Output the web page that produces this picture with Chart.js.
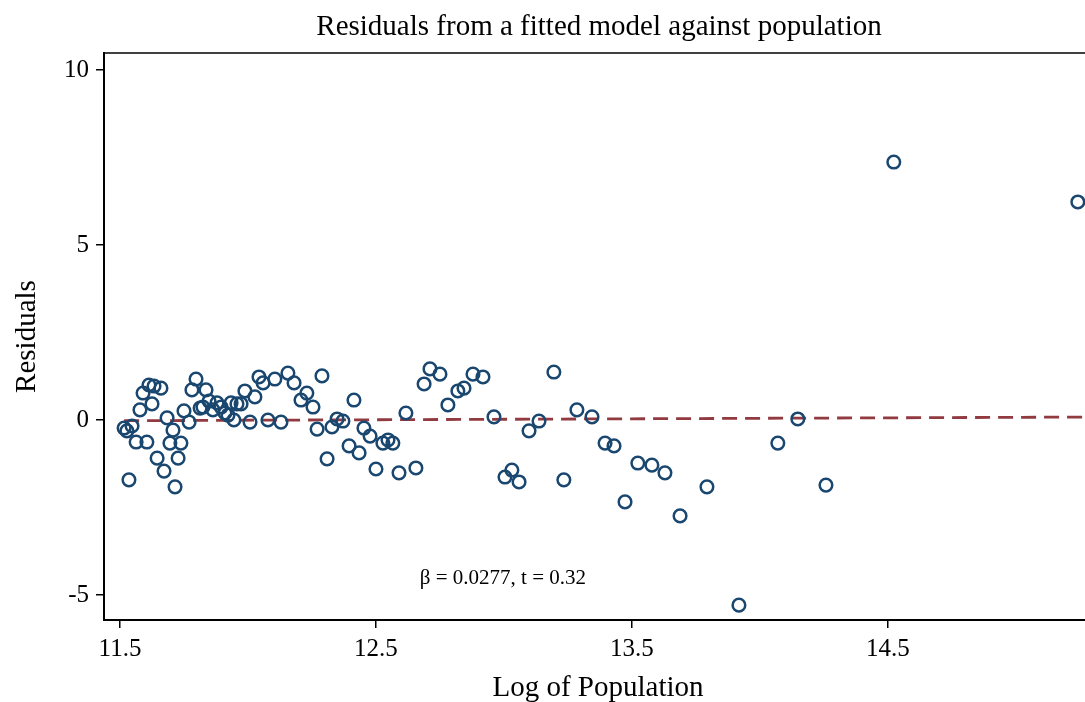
<!DOCTYPE html>
<html>
<head>
<meta charset="utf-8">
<script src="https://cdn.jsdelivr.net/npm/chart.js@4"></script>
<style>
  body { margin: 0; background: #fff; }
  canvas { display: block; }
</style>
</head>
<body>
<canvas id="resid" width="1085" height="702"></canvas>
<script>
// log of population (x) and residuals (y)
const logPop = [
  11.516, 11.527, 11.547, 11.535, 11.563, 11.578, 11.590, 11.605, 11.613, 11.625,
  11.633, 11.645, 11.660, 11.672, 11.684, 11.695, 11.707, 11.715, 11.727, 11.738,
  11.750, 11.770, 11.781, 11.797, 11.813, 11.824, 11.836, 11.848, 11.863, 11.879,
  11.895, 11.910, 11.922, 11.934, 11.945, 11.957, 11.973, 11.988, 12.008, 12.027,
  12.043, 12.059, 12.078, 12.105, 12.129, 12.156, 12.180, 12.207, 12.230, 12.254,
  12.270, 12.289, 12.309, 12.328, 12.348, 12.371, 12.395, 12.414, 12.434, 12.453,
  12.477, 12.500, 12.527, 12.547, 12.566, 12.590, 12.617, 12.656, 12.688, 12.711,
  12.750, 12.781, 12.820, 12.844, 12.879, 12.918, 12.961, 13.004, 13.031, 13.059,
  13.098, 13.137, 13.195, 13.234, 13.285, 13.344, 13.395, 13.430, 13.473, 13.523,
  13.578, 13.629, 13.688, 13.793, 13.918, 14.070, 14.148, 14.258, 14.523, 15.242
];
const residuals = [
  -0.23, -0.31, -0.17, -1.71, -0.63, 0.29, 0.77, -0.63, 1.00, 0.46,
  0.97, -1.09, 0.91, -1.46, 0.06, -0.66, -0.29, -1.91, -1.09, -0.66,
  0.26, -0.06, 0.86, 1.17, 0.34, 0.37, 0.86, 0.54, 0.29, 0.49,
  0.37, 0.20, 0.14, 0.49, 0.00, 0.46, 0.46, 0.83, -0.06, 0.66,
  1.23, 1.06, 0.00, 1.17, -0.06, 1.34, 1.06, 0.57, 0.77, 0.37,
  -0.26, 1.26, -1.11, -0.20, 0.03, -0.03, -0.74, 0.57, -0.94, -0.23,
  -0.46, -1.40, -0.66, -0.57, -0.66, -1.51, 0.20, -1.37, 1.03, 1.46,
  1.31, 0.43, 0.83, 0.91, 1.31, 1.23, 0.09, -1.63, -1.43, -1.77,
  -0.31, -0.03, 1.37, -1.71, 0.29, 0.09, -0.66, -0.74, -2.34, -1.23,
  -1.29, -1.51, -2.74, -1.91, -5.29, -0.66, 0.03, -1.86, 7.37, 6.23
];
// fitted line end points
const fitX = [11.516, 15.27];
const fitY = [-0.02, 0.084];

const xTicks = [11.5, 12.5, 13.5, 14.5];
const yTicks = [-5, 0, 5, 10];

const chartTitle = "Residuals from a fitted model against population";
const xTitle = "Log of Population";
const yTitle = "Residuals";
const noteText = "β = 0.0277, t = 0.32";
const notePos = { x: 12.996, y: -4.54 };

const serif = "'Liberation Serif', 'Times New Roman', serif";

const textPlugin = {
  id: "textPlugin",
  afterDraw(chart) {
    const ctx = chart.ctx;
    const a = chart.chartArea;
    ctx.save();
    ctx.fillStyle = "#000";
    ctx.textAlign = "center";
    ctx.textBaseline = "middle";

    // top frame line
    ctx.strokeStyle = "#000";
    ctx.lineWidth = 1.5;
    ctx.beginPath();
    ctx.moveTo(a.left - 1, a.top);
    ctx.lineTo(a.right, a.top);
    ctx.stroke();

    ctx.font = "29px " + serif;
    ctx.fillText(chartTitle, 599, 27);

    ctx.fillText(xTitle, 598, 688);

    ctx.save();
    ctx.translate(27, (a.top + a.bottom) / 2);
    ctx.rotate(-Math.PI / 2);
    ctx.fillText(yTitle, 0, 0);
    ctx.restore();

    ctx.font = "21px " + serif;
    const nx = chart.scales.x.getPixelForValue(notePos.x);
    const ny = chart.scales.y.getPixelForValue(notePos.y);
    ctx.fillText(noteText, nx, ny);
    ctx.restore();
  }
};

const points = logPop.map((x, i) => ({ x: x, y: residuals[i] }));
const fitLine = fitX.map((x, i) => ({ x: x, y: fitY[i] }));

new Chart(document.getElementById("resid"), {
  type: "scatter",
  data: {
    datasets: [
      {
        data: fitLine,
        showLine: true,
        borderColor: "#913a40",
        borderWidth: 2.8,
        borderDash: [15, 8],
        pointRadius: 0,
        order: 2
      },
      {
        data: points,
        pointRadius: 6.3,
        pointBorderWidth: 2.5,
        pointBorderColor: "#1a476f",
        pointBackgroundColor: "rgba(0,0,0,0)",
        order: 1
      }
    ]
  },
  options: {
    responsive: false,
    animation: false,
    layout: { autoPadding: false, padding: { top: 53, right: 0, bottom: 0, left: 0 } },
    plugins: {
      legend: { display: false },
      tooltip: { enabled: false }
    },
    scales: {
      x: {
        type: "linear",
        min: 11.4375,
        max: 15.27,
        afterBuildTicks: (axis) => { axis.ticks = xTicks.map(v => ({ value: v })); },
        afterFit: (scale) => { scale.height = 82; },
        grid: { drawOnChartArea: false, drawTicks: true, tickLength: 8, color: "#000", lineWidth: 1.5 },
        border: { display: true, color: "#000", width: 2 },
        ticks: {
          color: "#000",
          padding: 6,
          maxRotation: 0,
          font: { family: serif, size: 25 },
          callback: (v) => v.toFixed(1)
        }
      },
      y: {
        type: "linear",
        min: -5.714,
        max: 10.486,
        afterBuildTicks: (axis) => { axis.ticks = yTicks.map(v => ({ value: v })); },
        afterFit: (scale) => { scale.width = 104; },
        grid: { drawOnChartArea: false, drawTicks: true, tickLength: 8, color: "#000", lineWidth: 1.5 },
        border: { display: true, color: "#000", width: 2 },
        ticks: {
          color: "#000",
          padding: 7,
          font: { family: serif, size: 25 },
          callback: (v) => String(v)
        }
      }
    }
  },
  plugins: [textPlugin]
});
</script>
</body>
</html>
